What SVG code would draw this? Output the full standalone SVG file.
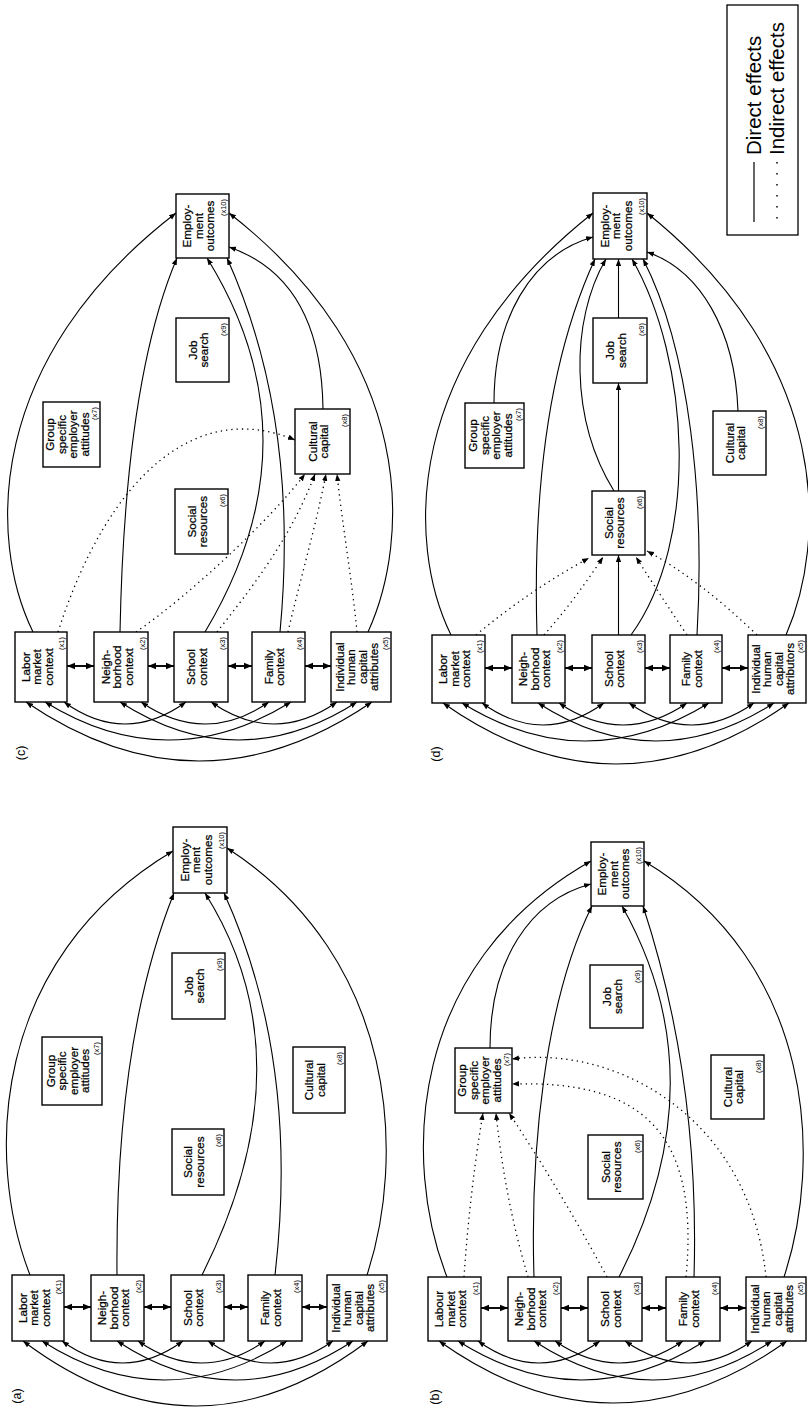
<svg xmlns="http://www.w3.org/2000/svg" width="808" height="1409" viewBox="0 0 808 1409">
<style>
.bx{fill:#fff;stroke:#000;stroke-width:1.4}
.t{font-family:"Liberation Sans",Arial,Helvetica,sans-serif;font-size:11.7px;fill:#000;stroke:#000;stroke-width:0.25;text-anchor:middle}
.s{font-family:"Liberation Sans",Arial,Helvetica,sans-serif;font-size:7.5px;fill:#000;text-anchor:end}
.lab{font-family:"Liberation Sans",Arial,Helvetica,sans-serif;font-size:12.5px;fill:#000;text-anchor:middle}
.leg{font-family:"Liberation Sans",Arial,Helvetica,sans-serif;font-size:20.5px;fill:#000}
.c{fill:none;stroke:#000;stroke-width:1.1;marker-end:url(#ah)}
.bi{fill:none;stroke:#000;stroke-width:1.1;marker-start:url(#ah);marker-end:url(#ah)}
.dd{fill:none;stroke:#000;stroke-width:1.3;stroke-dasharray:1.3 4;marker-end:url(#ah)}
.db{fill:none;stroke:#000;stroke-width:1.9;marker-start:url(#ab);marker-end:url(#ab)}
</style>
<defs>
<marker id="ah" viewBox="0 0 10 10" refX="10" refY="5" markerWidth="7" markerHeight="7" markerUnits="userSpaceOnUse" orient="auto-start-reverse"><path d="M0,1.2 L10,5 L0,8.8 Z" fill="#000"/></marker>
<marker id="ab" viewBox="0 0 10 10" refX="10" refY="5" markerWidth="8" markerHeight="8" markerUnits="userSpaceOnUse" orient="auto-start-reverse"><path d="M0,1 L10,5 L0,9 Z" fill="#000"/></marker>
</defs>
<rect x="0" y="0" width="808" height="1409" fill="#fff"/>

<!-- legend -->
<g id="legend">
<rect x="727" y="5" width="71" height="230" fill="#fff" stroke="#000" stroke-width="1.3"/>
<line x1="754" y1="162" x2="754" y2="222" stroke="#000" stroke-width="1.2"/>
<line x1="777" y1="162" x2="777" y2="222" stroke="#000" stroke-width="1.5" stroke-dasharray="1.5 9.5"/>
<text class="leg" transform="translate(761,155) rotate(-90)">Direct effects</text>
<text class="leg" transform="translate(784,155) rotate(-90)">Indirect effects</text>
</g>

<!-- panel labels -->
<g id="labels">
<text class="lab" transform="translate(24.5,753) rotate(-90)">(c)</text>
<text class="lab" transform="translate(439.5,754) rotate(-90)">(d)</text>
<text class="lab" transform="translate(20.5,1396) rotate(-90)">(a)</text>
<text class="lab" transform="translate(438.5,1397) rotate(-90)">(b)</text>
</g>

<!-- ================= connectors ================= -->
<g id="connectors">
<!-- panel c -->
<g id="c-conn">
<path class="db" d="M67,666 L94,666"/><path class="db" d="M148,666 L174,666"/><path class="db" d="M228,666 L252,666"/><path class="db" d="M305,666 L331,666"/>
<path class="bi" d="M64,702 Q125,746 186,702"/>
<path class="bi" d="M141,702 Q205,746 269,702"/>
<path class="bi" d="M211,702 Q274,746 337,702"/>
<path class="bi" d="M45,702 Q168,778 291,702"/>
<path class="bi" d="M120,702 Q238.5,778 357,702"/>
<path class="bi" d="M26,702 Q199,820 372,702"/>
<path class="c" d="M33,632 C -12,540 -15,360 176,213"/>
<path class="c" d="M368,632 C 410,540 418,360 229,213"/>
<path class="c" d="M120,632 Q 125,380 177,258"/>
<path class="c" d="M205,632 Q 320,440 207,258"/>
<path class="c" d="M280,632 Q 300,420 227,258"/>
<path class="c" d="M323,409 C 322,330 295,270 229,247"/>
<path class="dd" d="M58,632 C 110,470 200,400 295,440"/>
<path class="dd" d="M136,632 C 190,595 270,520 305,474"/>
<path class="dd" d="M217,632 C 250,590 290,540 315,474"/>
<path class="dd" d="M288,632 C 300,580 315,530 326,474"/>
<path class="dd" d="M357,632 C 352,580 343,530 337,474"/>
</g>
<!-- panel d -->
<g id="d-conn">
<path class="db" d="M485,668 L512,668"/><path class="db" d="M565,668 L592,668"/><path class="db" d="M645,668 L670,668"/><path class="db" d="M722,668 L748,668"/>
<path class="bi" d="M482,703 Q543,747 604,703"/>
<path class="bi" d="M559,703 Q623,747 687,703"/>
<path class="bi" d="M629,703 Q691.5,747 754,703"/>
<path class="bi" d="M462,703 Q585.5,779 709,703"/>
<path class="bi" d="M538,703 Q656,779 774,703"/>
<path class="bi" d="M443,703 Q616,825 789,703"/>
<path class="c" d="M451,635 C 406,543 403,363 593,213"/>
<path class="c" d="M786,635 C 826,543 834,363 647,213"/>
<path class="c" d="M494,403 C 494,320 530,255 593,237"/>
<path class="c" d="M537,635 Q 530,400 595,259"/>
<path class="c" d="M614,491 C 570,420 570,320 606,259"/>
<path class="c" d="M618.5,318 L618.5,259"/>
<path class="c" d="M618.5,491 L618.5,383"/>
<path class="c" d="M618.5,635 L618.5,555"/>
<path class="c" d="M631,635 C 700,540 690,360 632,259"/>
<path class="c" d="M697,635 C 705,500 690,350 643,259"/>
<path class="c" d="M738,411 C 735,330 700,270 647,252"/>
<path class="dd" d="M476,635 Q 530,590 589,558"/>
<path class="dd" d="M544,635 Q 575,600 603,557"/>
<path class="dd" d="M687,635 Q 660,595 636,557"/>
<path class="dd" d="M757,635 Q 700,580 647,551"/>
</g>
<!-- panel a -->
<g id="a-conn">
<path class="db" d="M64,1307 L91,1307"/><path class="db" d="M144,1307 L171,1307"/><path class="db" d="M224,1307 L248,1307"/><path class="db" d="M302,1307 L327,1307"/>
<path class="bi" d="M62,1341 Q122.5,1385 183,1341"/>
<path class="bi" d="M138,1341 Q201.5,1385 265,1341"/>
<path class="bi" d="M208,1341 Q270.5,1385 333,1341"/>
<path class="bi" d="M42,1341 Q164.5,1419 287,1341"/>
<path class="bi" d="M117,1341 Q235,1419 353,1341"/>
<path class="bi" d="M23,1341 Q195.5,1471 368,1341"/>
<path class="c" d="M30,1275 C -15,1160 -10,960 173,851"/>
<path class="c" d="M367,1275 C 405,1160 400,960 227,848"/>
<path class="c" d="M117,1275 Q 115,1040 174,893"/>
<path class="c" d="M202,1275 Q 310,1060 205,893"/>
<path class="c" d="M275,1275 Q 300,1060 224,893"/>
</g>
<!-- panel b -->
<g id="b-conn">
<path class="db" d="M481,1308 L508,1308"/><path class="db" d="M561,1308 L588,1308"/><path class="db" d="M642,1308 L666,1308"/><path class="db" d="M720,1308 L746,1308"/>
<path class="bi" d="M478,1341 Q539,1385 600,1341"/>
<path class="bi" d="M555,1341 Q619,1385 683,1341"/>
<path class="bi" d="M625,1341 Q688.5,1385 752,1341"/>
<path class="bi" d="M458,1341 Q581.5,1419 705,1341"/>
<path class="bi" d="M534,1341 Q653,1419 772,1341"/>
<path class="bi" d="M439,1341 Q613,1465 787,1341"/>
<path class="c" d="M447,1277 C 402,1162 407,965 591,861"/>
<path class="c" d="M784,1277 C 822,1162 817,965 644,861"/>
<path class="c" d="M490,1048 C 490,960 530,900 591,884"/>
<path class="c" d="M534,1277 C 530,1150 545,1000 592,906"/>
<path class="c" d="M619,1277 Q 720,1080 622,906"/>
<path class="c" d="M694,1277 Q 700,1080 643,906"/>
<path class="dd" d="M464,1277 Q 470,1190 483,1113"/>
<path class="dd" d="M528,1277 Q 505,1200 496,1113"/>
<path class="dd" d="M607,1277 Q 560,1190 509,1113"/>
<path class="dd" d="M686,1277 C 700,1130 640,1080 512,1084"/>
<path class="dd" d="M766,1277 C 750,1120 620,1045 512,1059"/>
</g>
</g>

<!-- ================= nodes: panel c ================= -->
<g id="c-x1"><rect class="bx" x="15" y="632" width="52" height="70"/><text class="t" transform="translate(41,667) rotate(-90)"><tspan x="0" y="-11.5">Labor</tspan><tspan x="0" y="0">market</tspan><tspan x="0" y="11.5">context</tspan></text><text class="s" transform="translate(41,667) rotate(-90)" x="30" y="23">(x1)</text></g>
<g id="c-x2"><rect class="bx" x="94" y="632" width="54" height="70"/><text class="t" transform="translate(121,667) rotate(-90)"><tspan x="0" y="-11.5">Neigh-</tspan><tspan x="0" y="0">borhood</tspan><tspan x="0" y="11.5">context</tspan></text><text class="s" transform="translate(121,667) rotate(-90)" x="30" y="24">(x2)</text></g>
<g id="c-x3"><rect class="bx" x="174" y="632" width="54" height="70"/><text class="t" transform="translate(201,667) rotate(-90)"><tspan x="0" y="-5.75">School</tspan><tspan x="0" y="5.75">context</tspan></text><text class="s" transform="translate(201,667) rotate(-90)" x="30" y="24">(x3)</text></g>
<g id="c-x4"><rect class="bx" x="252" y="632" width="53" height="70"/><text class="t" transform="translate(278.5,667) rotate(-90)"><tspan x="0" y="-5.75">Family</tspan><tspan x="0" y="5.75">context</tspan></text><text class="s" transform="translate(278.5,667) rotate(-90)" x="30" y="23.5">(x4)</text></g>
<g id="c-x5"><rect class="bx" x="331" y="632" width="60" height="70"/><text class="t" transform="translate(361,667) rotate(-90)"><tspan x="0" y="-17.25">Individual</tspan><tspan x="0" y="-5.75">human</tspan><tspan x="0" y="5.75">capital</tspan><tspan x="0" y="17.25">attributes</tspan></text><text class="s" transform="translate(361,667) rotate(-90)" x="30" y="27">(x5)</text></g>
<g id="c-x6"><rect class="bx" x="175" y="489" width="53" height="65"/><text class="t" transform="translate(201.5,521.5) rotate(-90)"><tspan x="0" y="-5.75">Social</tspan><tspan x="0" y="5.75">resources</tspan></text><text class="s" transform="translate(201.5,521.5) rotate(-90)" x="27.5" y="23.5">(x6)</text></g>
<g id="c-x7"><rect class="bx" x="43" y="402" width="57" height="65"/><text class="t" transform="translate(71.5,434.5) rotate(-90)"><tspan x="0" y="-17.25">Group</tspan><tspan x="0" y="-5.75">specific</tspan><tspan x="0" y="5.75">employer</tspan><tspan x="0" y="17.25">attitudes</tspan></text><text class="s" transform="translate(71.5,434.5) rotate(-90)" x="27.5" y="25.5">(x7)</text></g>
<g id="c-x8"><rect class="bx" x="295" y="409" width="55" height="65"/><text class="t" transform="translate(322.5,441.5) rotate(-90)"><tspan x="0" y="-5.75">Cultural</tspan><tspan x="0" y="5.75">capital</tspan></text><text class="s" transform="translate(322.5,441.5) rotate(-90)" x="27.5" y="24.5">(x8)</text></g>
<g id="c-x9"><rect class="bx" x="176" y="318" width="53" height="64"/><text class="t" transform="translate(202.5,350) rotate(-90)"><tspan x="0" y="-5.75">Job</tspan><tspan x="0" y="5.75">search</tspan></text><text class="s" transform="translate(202.5,350) rotate(-90)" x="27" y="23.5">(x9)</text></g>
<g id="c-x10"><rect class="bx" x="176" y="194" width="53" height="64"/><text class="t" transform="translate(202.5,226) rotate(-90)"><tspan x="0" y="-11.5">Employ-</tspan><tspan x="0" y="0">ment</tspan><tspan x="0" y="11.5">outcomes</tspan></text><text class="s" transform="translate(202.5,226) rotate(-90)" x="27" y="23.5">(x10)</text></g>

<!-- ================= nodes: panel d ================= -->
<g id="d-x1"><rect class="bx" x="432" y="635" width="53" height="68"/><text class="t" transform="translate(458.5,669) rotate(-90)"><tspan x="0" y="-11.5">Labor</tspan><tspan x="0" y="0">market</tspan><tspan x="0" y="11.5">context</tspan></text><text class="s" transform="translate(458.5,669) rotate(-90)" x="29" y="23.5">(x1)</text></g>
<g id="d-x2"><rect class="bx" x="512" y="635" width="53" height="68"/><text class="t" transform="translate(538.5,669) rotate(-90)"><tspan x="0" y="-11.5">Neigh-</tspan><tspan x="0" y="0">borhood</tspan><tspan x="0" y="11.5">context</tspan></text><text class="s" transform="translate(538.5,669) rotate(-90)" x="29" y="23.5">(x2)</text></g>
<g id="d-x3"><rect class="bx" x="592" y="635" width="53" height="68"/><text class="t" transform="translate(618.5,669) rotate(-90)"><tspan x="0" y="-5.75">School</tspan><tspan x="0" y="5.75">context</tspan></text><text class="s" transform="translate(618.5,669) rotate(-90)" x="29" y="23.5">(x3)</text></g>
<g id="d-x4"><rect class="bx" x="670" y="635" width="52" height="68"/><text class="t" transform="translate(696,669) rotate(-90)"><tspan x="0" y="-5.75">Family</tspan><tspan x="0" y="5.75">context</tspan></text><text class="s" transform="translate(696,669) rotate(-90)" x="29" y="23">(x4)</text></g>
<g id="d-x5"><rect class="bx" x="748" y="635" width="58" height="68"/><text class="t" transform="translate(777,669) rotate(-90)"><tspan x="0" y="-17.25">Individual</tspan><tspan x="0" y="-5.75">human</tspan><tspan x="0" y="5.75">capital</tspan><tspan x="0" y="17.25">attributors</tspan></text><text class="s" transform="translate(777,669) rotate(-90)" x="29" y="26">(x5)</text></g>
<g id="d-x6"><rect class="bx" x="592" y="491" width="53" height="64"/><text class="t" transform="translate(618.5,523) rotate(-90)"><tspan x="0" y="-5.75">Social</tspan><tspan x="0" y="5.75">resources</tspan></text><text class="s" transform="translate(618.5,523) rotate(-90)" x="27" y="23.5">(x6)</text></g>
<g id="d-x7"><rect class="bx" x="465" y="403" width="59" height="65"/><text class="t" transform="translate(494.5,435.5) rotate(-90)"><tspan x="0" y="-17.25">Group</tspan><tspan x="0" y="-5.75">specific</tspan><tspan x="0" y="5.75">employer</tspan><tspan x="0" y="17.25">attitudes</tspan></text><text class="s" transform="translate(494.5,435.5) rotate(-90)" x="27.5" y="26.5">(x7)</text></g>
<g id="d-x8"><rect class="bx" x="713" y="411" width="53" height="64"/><text class="t" transform="translate(739.5,443) rotate(-90)"><tspan x="0" y="-5.75">Cultural</tspan><tspan x="0" y="5.75">capital</tspan></text><text class="s" transform="translate(739.5,443) rotate(-90)" x="27" y="23.5">(x8)</text></g>
<g id="d-x9"><rect class="bx" x="593" y="318" width="54" height="65"/><text class="t" transform="translate(620,350.5) rotate(-90)"><tspan x="0" y="-5.75">Job</tspan><tspan x="0" y="5.75">search</tspan></text><text class="s" transform="translate(620,350.5) rotate(-90)" x="27.5" y="24">(x9)</text></g>
<g id="d-x10"><rect class="bx" x="593" y="193" width="54" height="66"/><text class="t" transform="translate(620,226) rotate(-90)"><tspan x="0" y="-11.5">Employ-</tspan><tspan x="0" y="0">ment</tspan><tspan x="0" y="11.5">outcomes</tspan></text><text class="s" transform="translate(620,226) rotate(-90)" x="28" y="24">(x10)</text></g>

<!-- ================= nodes: panel a ================= -->
<g id="a-x1"><rect class="bx" x="12" y="1275" width="52" height="66"/><text class="t" transform="translate(38,1308) rotate(-90)"><tspan x="0" y="-11.5">Labor</tspan><tspan x="0" y="0">market</tspan><tspan x="0" y="11.5">context</tspan></text><text class="s" transform="translate(38,1308) rotate(-90)" x="28" y="23">(X1)</text></g>
<g id="a-x2"><rect class="bx" x="91" y="1275" width="53" height="66"/><text class="t" transform="translate(117.5,1308) rotate(-90)"><tspan x="0" y="-11.5">Neigh-</tspan><tspan x="0" y="0">borhood</tspan><tspan x="0" y="11.5">context</tspan></text><text class="s" transform="translate(117.5,1308) rotate(-90)" x="28" y="23.5">(x2)</text></g>
<g id="a-x3"><rect class="bx" x="171" y="1275" width="53" height="66"/><text class="t" transform="translate(197.5,1308) rotate(-90)"><tspan x="0" y="-5.75">School</tspan><tspan x="0" y="5.75">context</tspan></text><text class="s" transform="translate(197.5,1308) rotate(-90)" x="28" y="23.5">(x3)</text></g>
<g id="a-x4"><rect class="bx" x="248" y="1275" width="54" height="66"/><text class="t" transform="translate(275,1308) rotate(-90)"><tspan x="0" y="-5.75">Family</tspan><tspan x="0" y="5.75">context</tspan></text><text class="s" transform="translate(275,1308) rotate(-90)" x="28" y="24">(x4)</text></g>
<g id="a-x5"><rect class="bx" x="327" y="1275" width="60" height="66"/><text class="t" transform="translate(357,1308) rotate(-90)"><tspan x="0" y="-17.25">Individual</tspan><tspan x="0" y="-5.75">human</tspan><tspan x="0" y="5.75">capital</tspan><tspan x="0" y="17.25">attributes</tspan></text><text class="s" transform="translate(357,1308) rotate(-90)" x="28" y="27">(x5)</text></g>
<g id="a-x6"><rect class="bx" x="172" y="1129" width="52" height="66"/><text class="t" transform="translate(198,1162) rotate(-90)"><tspan x="0" y="-5.75">Social</tspan><tspan x="0" y="5.75">resources</tspan></text><text class="s" transform="translate(198,1162) rotate(-90)" x="28" y="23">(x6)</text></g>
<g id="a-x7"><rect class="bx" x="42" y="1037" width="60" height="68"/><text class="t" transform="translate(72,1071) rotate(-90)"><tspan x="0" y="-17.25">Group</tspan><tspan x="0" y="-5.75">specific</tspan><tspan x="0" y="5.75">employer</tspan><tspan x="0" y="17.25">attitudes</tspan></text><text class="s" transform="translate(72,1071) rotate(-90)" x="29" y="27">(x7)</text></g>
<g id="a-x8"><rect class="bx" x="293" y="1047" width="52" height="66"/><text class="t" transform="translate(319,1080) rotate(-90)"><tspan x="0" y="-5.75">Cultural</tspan><tspan x="0" y="5.75">capital</tspan></text><text class="s" transform="translate(319,1080) rotate(-90)" x="28" y="23">(x8)</text></g>
<g id="a-x9"><rect class="bx" x="172" y="953" width="53" height="66"/><text class="t" transform="translate(198.5,986) rotate(-90)"><tspan x="0" y="-5.75">Job</tspan><tspan x="0" y="5.75">search</tspan></text><text class="s" transform="translate(198.5,986) rotate(-90)" x="28" y="23.5">(x9)</text></g>
<g id="a-x10"><rect class="bx" x="173" y="827" width="54" height="66"/><text class="t" transform="translate(200,860) rotate(-90)"><tspan x="0" y="-11.5">Employ-</tspan><tspan x="0" y="0">ment</tspan><tspan x="0" y="11.5">outcomes</tspan></text><text class="s" transform="translate(200,860) rotate(-90)" x="28" y="24">(x10)</text></g>

<!-- ================= nodes: panel b ================= -->
<g id="b-x1"><rect class="bx" x="428" y="1277" width="53" height="64"/><text class="t" transform="translate(454.5,1309) rotate(-90)"><tspan x="0" y="-11.5">Labour</tspan><tspan x="0" y="0">market</tspan><tspan x="0" y="11.5">context</tspan></text><text class="s" transform="translate(454.5,1309) rotate(-90)" x="27" y="23.5">(x1)</text></g>
<g id="b-x2"><rect class="bx" x="508" y="1277" width="53" height="64"/><text class="t" transform="translate(534.5,1309) rotate(-90)"><tspan x="0" y="-11.5">Neigh-</tspan><tspan x="0" y="0">borhood</tspan><tspan x="0" y="11.5">context</tspan></text><text class="s" transform="translate(534.5,1309) rotate(-90)" x="27" y="23.5">(x2)</text></g>
<g id="b-x3"><rect class="bx" x="588" y="1277" width="54" height="64"/><text class="t" transform="translate(615,1309) rotate(-90)"><tspan x="0" y="-5.75">School</tspan><tspan x="0" y="5.75">context</tspan></text><text class="s" transform="translate(615,1309) rotate(-90)" x="27" y="24">(x3)</text></g>
<g id="b-x4"><rect class="bx" x="666" y="1277" width="54" height="64"/><text class="t" transform="translate(693,1309) rotate(-90)"><tspan x="0" y="-5.75">Family</tspan><tspan x="0" y="5.75">context</tspan></text><text class="s" transform="translate(693,1309) rotate(-90)" x="27" y="24">(x4)</text></g>
<g id="b-x5"><rect class="bx" x="746" y="1277" width="60" height="64"/><text class="t" transform="translate(776,1309) rotate(-90)"><tspan x="0" y="-17.25">Individual</tspan><tspan x="0" y="-5.75">human</tspan><tspan x="0" y="5.75">capital</tspan><tspan x="0" y="17.25">attributes</tspan></text><text class="s" transform="translate(776,1309) rotate(-90)" x="27" y="27">(x5)</text></g>
<g id="b-x6"><rect class="bx" x="588" y="1135" width="55" height="64"/><text class="t" transform="translate(615.5,1167) rotate(-90)"><tspan x="0" y="-5.75">Social</tspan><tspan x="0" y="5.75">resources</tspan></text><text class="s" transform="translate(615.5,1167) rotate(-90)" x="27" y="24.5">(x6)</text></g>
<g id="b-x7"><rect class="bx" x="455" y="1048" width="57" height="65"/><text class="t" transform="translate(483.5,1080.5) rotate(-90)"><tspan x="0" y="-17.25">Group</tspan><tspan x="0" y="-5.75">specific</tspan><tspan x="0" y="5.75">employer</tspan><tspan x="0" y="17.25">attitudes</tspan></text><text class="s" transform="translate(483.5,1080.5) rotate(-90)" x="27.5" y="25.5">(x7)</text></g>
<g id="b-x8"><rect class="bx" x="711" y="1055" width="53" height="64"/><text class="t" transform="translate(737.5,1087) rotate(-90)"><tspan x="0" y="-5.75">Cultural</tspan><tspan x="0" y="5.75">capital</tspan></text><text class="s" transform="translate(737.5,1087) rotate(-90)" x="27" y="23.5">(x8)</text></g>
<g id="b-x9"><rect class="bx" x="590" y="965" width="53" height="63"/><text class="t" transform="translate(616.5,996.5) rotate(-90)"><tspan x="0" y="-5.75">Job</tspan><tspan x="0" y="5.75">search</tspan></text><text class="s" transform="translate(616.5,996.5) rotate(-90)" x="26.5" y="23.5">(x9)</text></g>
<g id="b-x10"><rect class="bx" x="591" y="842" width="53" height="64"/><text class="t" transform="translate(617.5,874) rotate(-90)"><tspan x="0" y="-11.5">Employ-</tspan><tspan x="0" y="0">ment</tspan><tspan x="0" y="11.5">outcomes</tspan></text><text class="s" transform="translate(617.5,874) rotate(-90)" x="27" y="23.5">(x10)</text></g>
</svg>
